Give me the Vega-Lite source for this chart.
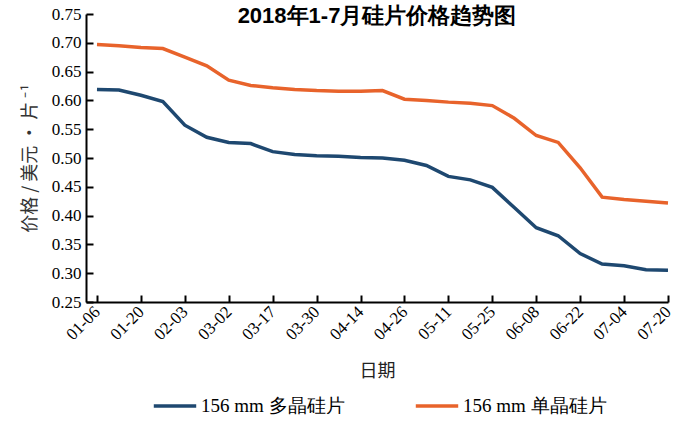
{
  "$schema": "https://vega.github.io/schema/vega-lite/v6.json",
  "autosize": {"type": "none"},
  "padding": {"left": 86, "top": 14, "right": 16, "bottom": 120},
  "width": 582,
  "height": 288,
  "background": "white",
  "title": {
    "text": "2018年1-7月硅片价格趋势图",
    "font": "Liberation Sans",
    "fontSize": 22,
    "fontWeight": "bold",
    "color": "#000000",
    "anchor": "middle",
    "baseline": "top",
    "offset": -23
  },
  "config": {
    "view": {"stroke": null},
    "axis": {"grid": false}
  },
  "data": {
    "values": [
      {"i": 0, "date": "01-06", "series": "156 mm 多晶硅片", "price": 0.619},
      {"i": 1, "date": "01-13", "series": "156 mm 多晶硅片", "price": 0.618},
      {"i": 2, "date": "01-20", "series": "156 mm 多晶硅片", "price": 0.609},
      {"i": 3, "date": "01-27", "series": "156 mm 多晶硅片", "price": 0.598},
      {"i": 4, "date": "02-03", "series": "156 mm 多晶硅片", "price": 0.557},
      {"i": 5, "date": "02-10", "series": "156 mm 多晶硅片", "price": 0.536},
      {"i": 6, "date": "03-02", "series": "156 mm 多晶硅片", "price": 0.527},
      {"i": 7, "date": "03-09", "series": "156 mm 多晶硅片", "price": 0.525},
      {"i": 8, "date": "03-17", "series": "156 mm 多晶硅片", "price": 0.511},
      {"i": 9, "date": "03-23", "series": "156 mm 多晶硅片", "price": 0.506},
      {"i": 10, "date": "03-30", "series": "156 mm 多晶硅片", "price": 0.504},
      {"i": 11, "date": "04-07", "series": "156 mm 多晶硅片", "price": 0.503},
      {"i": 12, "date": "04-14", "series": "156 mm 多晶硅片", "price": 0.501},
      {"i": 13, "date": "04-20", "series": "156 mm 多晶硅片", "price": 0.500},
      {"i": 14, "date": "04-26", "series": "156 mm 多晶硅片", "price": 0.496},
      {"i": 15, "date": "05-04", "series": "156 mm 多晶硅片", "price": 0.487},
      {"i": 16, "date": "05-11", "series": "156 mm 多晶硅片", "price": 0.468},
      {"i": 17, "date": "05-18", "series": "156 mm 多晶硅片", "price": 0.462},
      {"i": 18, "date": "05-25", "series": "156 mm 多晶硅片", "price": 0.449},
      {"i": 19, "date": "06-01", "series": "156 mm 多晶硅片", "price": 0.414},
      {"i": 20, "date": "06-08", "series": "156 mm 多晶硅片", "price": 0.379},
      {"i": 21, "date": "06-15", "series": "156 mm 多晶硅片", "price": 0.365},
      {"i": 22, "date": "06-22", "series": "156 mm 多晶硅片", "price": 0.334},
      {"i": 23, "date": "06-29", "series": "156 mm 多晶硅片", "price": 0.316},
      {"i": 24, "date": "07-04", "series": "156 mm 多晶硅片", "price": 0.313},
      {"i": 25, "date": "07-12", "series": "156 mm 多晶硅片", "price": 0.306},
      {"i": 26, "date": "07-20", "series": "156 mm 多晶硅片", "price": 0.305},
      {"i": 0, "date": "01-06", "series": "156 mm 单晶硅片", "price": 0.697},
      {"i": 1, "date": "01-13", "series": "156 mm 单晶硅片", "price": 0.695},
      {"i": 2, "date": "01-20", "series": "156 mm 单晶硅片", "price": 0.692},
      {"i": 3, "date": "01-27", "series": "156 mm 单晶硅片", "price": 0.690},
      {"i": 4, "date": "02-03", "series": "156 mm 单晶硅片", "price": 0.675},
      {"i": 5, "date": "02-10", "series": "156 mm 单晶硅片", "price": 0.660},
      {"i": 6, "date": "03-02", "series": "156 mm 单晶硅片", "price": 0.635},
      {"i": 7, "date": "03-09", "series": "156 mm 单晶硅片", "price": 0.626},
      {"i": 8, "date": "03-17", "series": "156 mm 单晶硅片", "price": 0.622},
      {"i": 9, "date": "03-23", "series": "156 mm 单晶硅片", "price": 0.619},
      {"i": 10, "date": "03-30", "series": "156 mm 单晶硅片", "price": 0.617},
      {"i": 11, "date": "04-07", "series": "156 mm 单晶硅片", "price": 0.616},
      {"i": 12, "date": "04-14", "series": "156 mm 单晶硅片", "price": 0.616},
      {"i": 13, "date": "04-20", "series": "156 mm 单晶硅片", "price": 0.617},
      {"i": 14, "date": "04-26", "series": "156 mm 单晶硅片", "price": 0.602},
      {"i": 15, "date": "05-04", "series": "156 mm 单晶硅片", "price": 0.600},
      {"i": 16, "date": "05-11", "series": "156 mm 单晶硅片", "price": 0.597},
      {"i": 17, "date": "05-18", "series": "156 mm 单晶硅片", "price": 0.595},
      {"i": 18, "date": "05-25", "series": "156 mm 单晶硅片", "price": 0.591},
      {"i": 19, "date": "06-01", "series": "156 mm 单晶硅片", "price": 0.569},
      {"i": 20, "date": "06-08", "series": "156 mm 单晶硅片", "price": 0.539},
      {"i": 21, "date": "06-15", "series": "156 mm 单晶硅片", "price": 0.527},
      {"i": 22, "date": "06-22", "series": "156 mm 单晶硅片", "price": 0.483},
      {"i": 23, "date": "06-29", "series": "156 mm 单晶硅片", "price": 0.432},
      {"i": 24, "date": "07-04", "series": "156 mm 单晶硅片", "price": 0.428},
      {"i": 25, "date": "07-12", "series": "156 mm 单晶硅片", "price": 0.425},
      {"i": 26, "date": "07-20", "series": "156 mm 单晶硅片", "price": 0.422}
    ]
  },
  "mark": {"type": "line", "strokeWidth": 3.5, "interpolate": "linear"},
  "encoding": {
    "x": {
      "field": "i",
      "type": "quantitative",
      "scale": {"domain": [-0.5, 26], "nice": false, "zero": false},
      "axis": {
        "title": "日期",
        "titleFont": "Noto Sans CJK SC",
        "titleFontSize": 18,
        "titleFontWeight": "normal",
        "titleColor": "#222222",
        "titlePadding": 20,
        "values": [0, 2, 4, 6, 8, 10, 12, 14, 16, 18, 20, 22, 24, 26],
        "labelExpr": "['01-06','01-20','02-03','03-02','03-17','03-30','04-14','04-26','05-11','05-25','06-08','06-22','07-04','07-20'][datum.value/2]",
        "labelAngle": -45,
        "labelAlign": "right",
        "labelBaseline": "middle",
        "labelFont": "Liberation Serif",
        "labelFontSize": 17,
        "labelColor": "#000000",
        "labelPadding": 14,
        "tickSize": -7,
        "tickWidth": 2,
        "tickColor": "#000000",
        "domainColor": "#000000",
        "domainWidth": 2,
        "labelOverlap": false
      }
    },
    "y": {
      "field": "price",
      "type": "quantitative",
      "scale": {"domain": [0.25, 0.75], "nice": false, "zero": false},
      "axis": {
        "title": "价格 / 美元 • 片 ⁻¹",
        "titleFont": "Noto Sans CJK SC",
        "titleFontSize": 18,
        "titleFontWeight": "normal",
        "titleColor": "#333333",
        "titlePadding": 12,
        "values": [0.25, 0.3, 0.35, 0.4, 0.45, 0.5, 0.55, 0.6, 0.65, 0.7, 0.75],
        "format": ".2f",
        "labelFont": "Liberation Serif",
        "labelFontSize": 17,
        "labelColor": "#000000",
        "labelPadding": 12,
        "tickSize": -7,
        "tickWidth": 2,
        "tickColor": "#000000",
        "domainColor": "#000000",
        "domainWidth": 2,
        "labelOverlap": false
      }
    },
    "color": {
      "field": "series",
      "type": "nominal",
      "sort": ["156 mm 多晶硅片", "156 mm 单晶硅片"],
      "scale": {"domain": ["156 mm 多晶硅片", "156 mm 单晶硅片"], "range": ["#1e4870", "#e8632b"]},
      "legend": {
        "title": null,
        "orient": "none",
        "legendX": 66,
        "legendY": 369,
        "direction": "horizontal",
        "symbolType": "stroke",
        "symbolSize": 1800,
        "symbolStrokeWidth": 3.5,
        "labelFont": "Liberation Serif",
        "labelFontSize": 19,
        "labelColor": "#000000",
        "labelOffset": 3,
        "columnPadding": 63,
        "labelLimit": 300
      }
    }
  }
}
